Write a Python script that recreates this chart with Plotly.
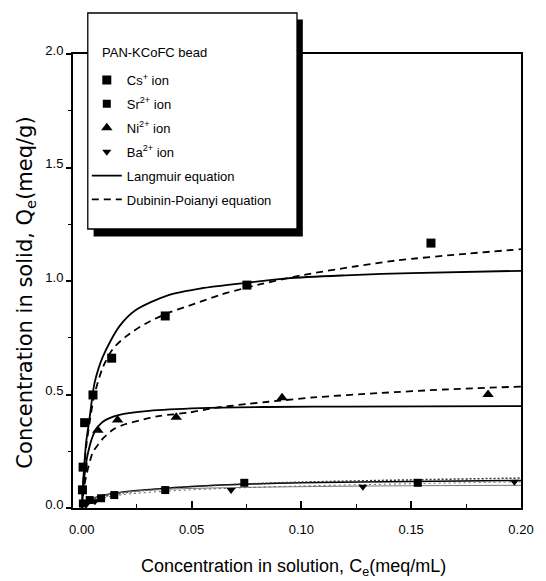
import plotly.graph_objects as go

# ---- measured isotherm data: C_e (meq/mL) vs Q_e (meq/g) ----
cs_c = [0.0003, 0.0006, 0.0013, 0.0051, 0.0136, 0.038, 0.0752, 0.159]
cs_q = [0.08, 0.18, 0.376, 0.498, 0.66, 0.846, 0.982, 1.167]

sr_c = [0.0005, 0.0036, 0.0088, 0.0148, 0.038, 0.074, 0.153]
sr_q = [0.02, 0.035, 0.043, 0.057, 0.079, 0.111, 0.111]

ni_c = [0.0073, 0.0163, 0.043, 0.0912, 0.185]
ni_q = [0.343, 0.388, 0.40, 0.486, 0.50]

ba_c = [0.002, 0.006, 0.068, 0.128, 0.197]
ba_q = [0.015, 0.03, 0.079, 0.094, 0.116]

# ---- model curves (Langmuir and Dubinin-Polanyi fits) ----
cs_lang_c = [0, 0.001, 0.002, 0.0036, 0.0058, 0.0096, 0.0171, 0.0246, 0.0395,
             0.0545, 0.0755, 0.0935, 0.12, 0.15, 0.2]
cs_lang_q = [0, 0.17, 0.29, 0.40, 0.55, 0.667, 0.80, 0.872, 0.938,
             0.968, 0.993, 1.012, 1.025, 1.035, 1.045]

cs_dr_c = [0, 0.001, 0.002, 0.0036, 0.0058, 0.0096, 0.0141, 0.020, 0.029, 0.0395,
           0.0515, 0.0635, 0.0755, 0.1, 0.125, 0.143, 0.175, 0.2]
cs_dr_q = [0, 0.16, 0.27, 0.38, 0.50, 0.62, 0.70, 0.755, 0.812, 0.86,
           0.90, 0.94, 0.972, 1.025, 1.065, 1.09, 1.12, 1.14]

ni_lang_c = [0, 0.001, 0.002, 0.003, 0.0044, 0.0058, 0.0096, 0.0171, 0.0306,
             0.054, 0.0845, 0.12, 0.2]
ni_lang_q = [0, 0.12, 0.20, 0.25, 0.30, 0.335, 0.38, 0.41, 0.428,
             0.44, 0.445, 0.447, 0.449]

ni_dr_c = [0, 0.001, 0.002, 0.003, 0.005, 0.0075, 0.01, 0.015, 0.02, 0.026, 0.035,
           0.0485, 0.06, 0.075, 0.085, 0.1055, 0.135, 0.165, 0.2]
ni_dr_q = [0, 0.09, 0.14, 0.18, 0.245, 0.28, 0.31, 0.35, 0.37, 0.385, 0.405,
           0.42, 0.44, 0.458, 0.468, 0.487, 0.506, 0.522, 0.535]

sr_lang_c = [0, 0.001, 0.003, 0.006, 0.01, 0.015, 0.025, 0.038, 0.05, 0.074, 0.1, 0.15, 0.2]
sr_lang_q = [0, 0.015, 0.03, 0.045, 0.056, 0.065, 0.077, 0.087, 0.095, 0.105, 0.111, 0.117, 0.121]

sr_dr_c = [0, 0.002, 0.005, 0.01, 0.02, 0.04, 0.075, 0.1, 0.15, 0.2]
sr_dr_q = [0, 0.02, 0.035, 0.05, 0.068, 0.088, 0.106, 0.114, 0.124, 0.132]

ba_lang_c = [0, 0.002, 0.005, 0.01, 0.02, 0.04, 0.07, 0.1, 0.15, 0.2]
ba_lang_q = [0, 0.02, 0.04, 0.055, 0.07, 0.083, 0.09, 0.094, 0.098, 0.10]

ba_dr_c = [0, 0.002, 0.005, 0.01, 0.02, 0.04, 0.07, 0.1, 0.15, 0.2]
ba_dr_q = [0, 0.015, 0.03, 0.045, 0.06, 0.075, 0.088, 0.097, 0.107, 0.115]

FONT = "Liberation Sans, Arial, sans-serif"
DASH = "7px,5px"

fig = go.Figure()


def curve(x, y, dash="solid", width=1.8, color="black", name=None, rank=None):
    fig.add_trace(go.Scatter(
        x=x, y=y, mode="lines", line_shape="spline",
        line=dict(color=color, width=width, dash=dash, smoothing=0.8),
        name=name, showlegend=name is not None,
        legendgroup=name or None, legendrank=rank or 1000,
        hoverinfo="skip"))


def points(x, y, symbol, size, name, rank):
    fig.add_trace(go.Scatter(
        x=x, y=y, mode="markers", name=name,
        marker=dict(symbol=symbol, size=size, color="black"),
        legendgroup=name, legendrank=rank))


# fitted curves
curve(cs_lang_c, cs_lang_q, name="Langmuir equation", rank=5)
curve(cs_dr_c, cs_dr_q, dash=DASH, name="Dubinin-Poianyi equation", rank=6)
curve(ni_lang_c, ni_lang_q)
curve(ni_dr_c, ni_dr_q, dash=DASH)
curve(sr_lang_c, sr_lang_q, width=1.5)
curve(sr_dr_c, sr_dr_q, dash="2px,2px", width=1.5, color="#333333")
curve(ba_lang_c, ba_lang_q, width=1, color="#777777")
curve(ba_dr_c, ba_dr_q, dash="2px,3px", width=1, color="#666666")

# measured points
points(cs_c, cs_q, "square", 9, "Cs<sup>+</sup> ion", 1)
points(sr_c, sr_q, "square", 8, "Sr<sup>2+</sup> ion", 2)
points(ni_c, ni_q, "triangle-up", 10, "Ni<sup>2+</sup> ion", 3)
points(ba_c, ba_q, "triangle-down", 8, "Ba<sup>2+</sup> ion", 4)

# legend frame with drop shadow
fig.add_shape(type="rect", xref="paper", yref="paper", layer="above",
              x0=0.046, x1=0.513, y0=0.598, y1=1.076,
              fillcolor="black", line=dict(width=0))
fig.add_shape(type="rect", xref="paper", yref="paper", layer="above",
              x0=0.033, x1=0.500, y0=0.6145, y1=1.0903,
              fillcolor="white", line=dict(color="black", width=1.3))

fig.add_annotation(text="PAN-KCoFC bead", xref="paper", yref="paper",
                   x=0.0595, y=1.004, xanchor="left", yanchor="middle",
                   showarrow=False, font=dict(family=FONT, size=13, color="black"))

# axis titles
fig.add_annotation(text="Concentration in solution, C<sub>e</sub>(meq/mL)",
                   xref="paper", yref="paper", x=0.493, y=-0.130,
                   xanchor="center", yanchor="middle", showarrow=False,
                   font=dict(family=FONT, size=18, color="black"))
fig.add_annotation(text="Concentration in solid, Q<sub>e</sub>(meq/g)",
                   xref="paper", yref="paper", x=-0.1057, y=0.4736,
                   xanchor="center", yanchor="middle", showarrow=False, textangle=-90,
                   font=dict(family="DejaVu Sans, sans-serif", size=21, color="black"))

fig.update_layout(
    width=546, height=581,
    margin=dict(l=73, r=19, t=54, b=73),
    paper_bgcolor="white", plot_bgcolor="white",
    font=dict(family=FONT, size=13, color="black"),
    showlegend=True,
    legend=dict(x=0.0308, y=0.9758, xanchor="left", yanchor="top",
                bgcolor="rgba(0,0,0,0)", borderwidth=0,
                traceorder="grouped", tracegroupgap=4,
                font=dict(family=FONT, size=13, color="black")),
    xaxis=dict(range=[-0.004, 0.2], tick0=0, dtick=0.05, tickformat=".2f",
               ticks="inside", ticklen=7, tickwidth=1.5, tickcolor="black",
               minor=dict(dtick=0.025, ticks="inside", ticklen=4, tickwidth=1.2,
                          tickcolor="black"),
               showline=True, linewidth=2, linecolor="black", mirror=True,
               showgrid=False, zeroline=False, ticklabelstandoff=8,
               tickfont=dict(family=FONT, size=13, color="black")),
    yaxis=dict(range=[0, 2.0], tick0=0, dtick=0.5, tickformat=".1f",
               ticks="outside", ticklen=5, tickwidth=1.5, tickcolor="black",
               minor=dict(dtick=0.25, ticks="outside", ticklen=3, tickwidth=1.2,
                          tickcolor="black"),
               showline=True, linewidth=2, linecolor="black", mirror=True,
               showgrid=False, zeroline=False, ticklabelshift=-4,
               tickfont=dict(family=FONT, size=13, color="black")),
)

fig.write_html("out.html")
